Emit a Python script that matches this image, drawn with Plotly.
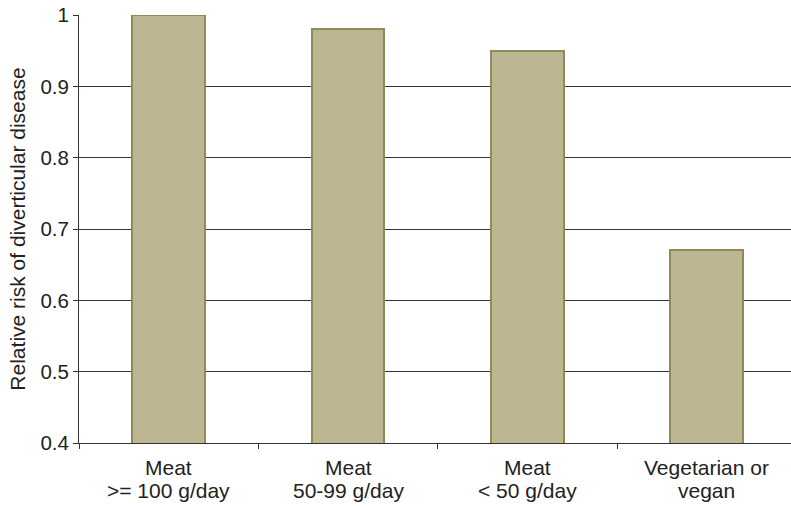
import plotly.graph_objects as go

# Diet groups (two-line labels) and their relative risk of diverticular disease
category_lines = [
    ["Meat", ">= 100 g/day"],
    ["Meat", "50-99 g/day"],
    ["Meat", "< 50 g/day"],
    ["Vegetarian or", "vegan"],
]
categories = [" ".join(lines) for lines in category_lines]
relative_risk = [1.0, 0.98, 0.95, 0.67]
y_ticks = [0.4, 0.5, 0.6, 0.7, 0.8, 0.9, 1.0]
y_tick_text = ["0.4", "0.5", "0.6", "0.7", "0.8", "0.9", "1"]

FONT = "Liberation Sans, Arial, sans-serif"
TEXT_COLOR = "#222222"

fig = go.Figure(
    go.Bar(
        x=categories,
        y=relative_risk,
        width=0.405,
        marker=dict(color="#BCB792", line=dict(color="#8E8A5A", width=2)),
    )
)

# Category labels drawn as two tightly spaced lines under each bar
line_offsets = [-0.058, -0.110]
for cat, lines in zip(categories, category_lines):
    for text, yoff in zip(lines, line_offsets):
        fig.add_annotation(
            x=cat, y=yoff, xref="x", yref="paper",
            text=text, showarrow=False,
            xanchor="center", yanchor="middle",
            font=dict(family=FONT, size=21, color=TEXT_COLOR),
        )

fig.update_layout(
    width=791,
    height=506,
    margin=dict(l=79, r=0, t=15, b=63),
    plot_bgcolor="white",
    paper_bgcolor="white",
    font=dict(family=FONT, size=20, color=TEXT_COLOR),
    showlegend=False,
    bargap=0,
)

fig.update_xaxes(
    range=[-0.5, 3.47],
    showline=True,
    linecolor="#333333",
    linewidth=1,
    ticks="outside",
    tickson="boundaries",
    ticklen=5,
    tickcolor="#333333",
    showgrid=False,
    showticklabels=False,
)

fig.update_yaxes(
    range=[0.4, 1.0],
    tickvals=y_ticks,
    ticktext=y_tick_text,
    showline=True,
    linecolor="#333333",
    linewidth=1,
    ticks="outside",
    ticklen=5,
    tickcolor="#333333",
    showgrid=True,
    gridcolor="#333333",
    gridwidth=1,
    zeroline=False,
    tickfont=dict(size=20.5),
    title=dict(text="Relative risk of diverticular disease", font=dict(size=21), standoff=9),
)

fig.write_html("out.html")
